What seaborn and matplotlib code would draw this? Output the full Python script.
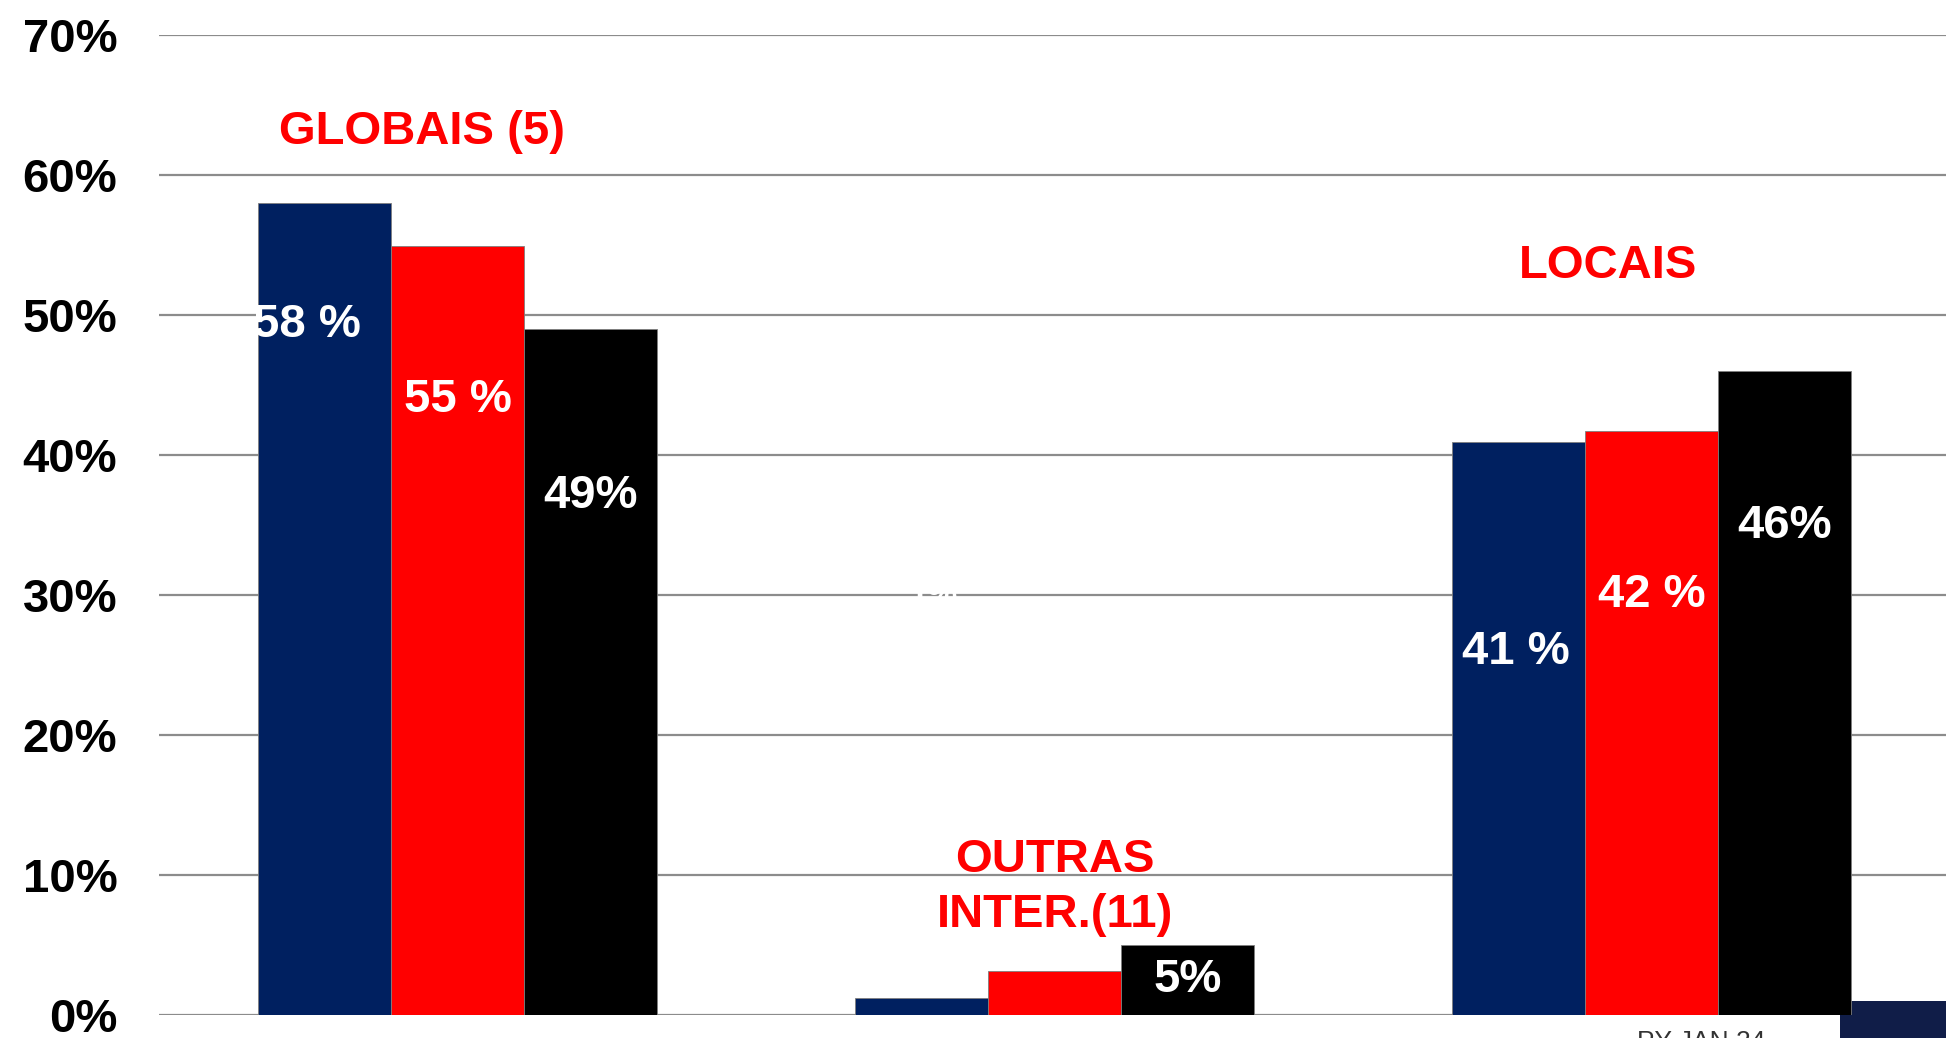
import matplotlib
matplotlib.use("Agg")
import matplotlib.pyplot as plt
import seaborn as sns
import pandas as pd
from matplotlib.patches import Rectangle
from matplotlib.ticker import PercentFormatter, MultipleLocator

# ---- data ----
groups = ["GLOBAIS (5)", "OUTRAS\nINTER.(11)", "LOCAIS"]
series = ["Série 1", "Série 2", "Série 3"]
navy_vals = [0.580, 0.0124, 0.409]
red_vals = [0.549, 0.0314, 0.417]
black_vals = [0.490, 0.0498, 0.460]
navy_labels = ["58 %", "1%", "41 %"]
red_labels = ["55 %", "", "42 %"]
black_labels = ["49%", "5%", "46%"]
colors = ["#002060", "#FF0000", "#000000"]

# ---- layout constants (label placement) ----
navy_label_y = [0.493, 0.300, 0.259]
red_label_y = [0.439, 0.0, 0.300]
black_label_y = [0.371, 0.025, 0.349]
navy_label_dx = [-0.029, 0.02, -0.005]
group_title_pos = [(-0.059, 0.631), (1.0, 0.091), (1.926, 0.535)]

df = pd.DataFrame({
    "group": groups * 3,
    "series": [s for s in series for _ in groups],
    "value": navy_vals + red_vals + black_vals,
})

sns.set_style("white")
plt.rcParams["font.family"] = ["Liberation Sans", "DejaVu Sans"]

W, H = 1946, 1038
fig = plt.figure(figsize=(W / 100, H / 100), dpi=100)
ax_left, ax_right = 159, 1950.5
ax_bottom, ax_top = 1015, 35
ax = fig.add_axes([ax_left / W, (H - ax_bottom) / H,
                   (ax_right - ax_left) / W, (ax_bottom - ax_top) / H])

sns.barplot(data=df, x="group", y="value", hue="series", palette=colors,
            width=0.668, ax=ax, legend=False, saturation=1,
            edgecolor="#7f7f7f", linewidth=0.6)

for p in ax.patches:
    p.set_zorder(2)

ax.set_xlim(-0.5, 2.5)
ax.set_ylim(0, 0.70)
ax.yaxis.set_major_locator(MultipleLocator(0.10))
ax.yaxis.set_major_formatter(PercentFormatter(1.0, decimals=0))
ax.grid(axis="y", color="#8c8c8c", linewidth=1.6)
ax.grid(axis="x", visible=False)
ax.set_axisbelow(True)
for s in ax.spines.values():
    s.set_visible(False)
ax.set_xlabel("")
ax.set_ylabel("")
ax.set_xticks([])
ax.tick_params(axis="y", length=0, pad=30, labelsize=34)
for t in ax.get_yticklabels():
    t.set_fontweight("bold")
    t.set_color("black")

# value labels
all_labels = [navy_labels, red_labels, black_labels]
all_y = [navy_label_y, red_label_y, black_label_y]
for si, cont in enumerate(ax.containers):
    for gi, bar in enumerate(cont):
        txt = all_labels[si][gi]
        if not txt:
            continue
        x = bar.get_x() + bar.get_width() / 2
        if si == 0:
            x += navy_label_dx[gi]
        size = 34
        if si == 0 and gi == 1:
            size = 24
        ax.text(x, all_y[si][gi], txt, color="white", fontsize=size,
                fontweight="bold", ha="center", va="center", zorder=5)

# group titles
for gi, name in enumerate(groups):
    gx, gy = group_title_pos[gi]
    ax.text(gx, gy, name, color="#FF0000", fontsize=34, fontweight="bold",
            ha="center", va="center", zorder=5, linespacing=1.34)

# slide artefacts at the bottom right
rect = Rectangle((1840 / W, 0), (W - 1840) / W, (H - 1001) / H,
                 transform=fig.transFigure, facecolor="#101d48",
                 edgecolor="none", zorder=1, clip_on=False)
ax.add_artist(rect)
fig.text(1701 / W, 8 / H, "PY JAN 24", color="#333333", fontsize=19,
         ha="center", va="top")

fig.savefig("out.png", dpi=100, facecolor="white")
